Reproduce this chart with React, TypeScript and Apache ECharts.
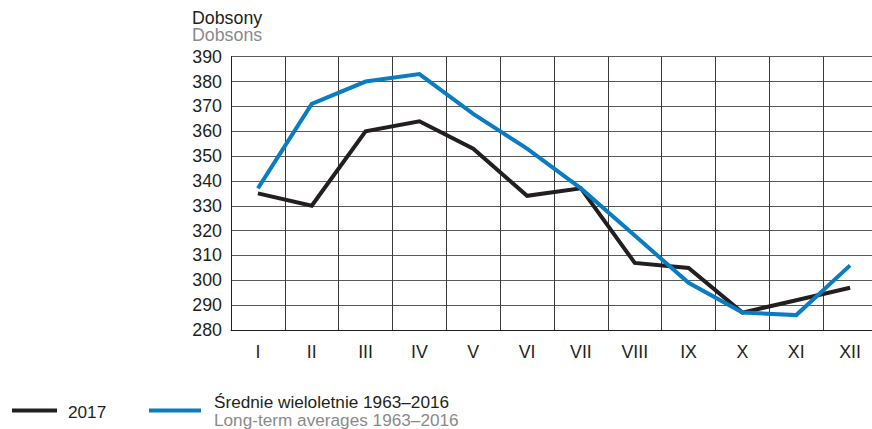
import React, { useEffect, useRef } from "react";
import * as echarts from "echarts";

const months = ["I", "II", "III", "IV", "V", "VI", "VII", "VIII", "IX", "X", "XI", "XII"];
const values2017 = [335, 330, 360, 364, 353, 334, 337, 307, 305, 287, 292, 297];
const longTerm = [337, 371, 380, 383, 367, 353, 337, 318, 299, 287, 286, 306];
const yTicks = { min: 280, max: 390, step: 10 };

const FONT = "'Liberation Sans', Arial, sans-serif";
const BLACK = "#231f20";
const BLUE = "#0a7dc2";
const GREY = "#8a8a8a";

export default function App() {
  const ref = useRef<HTMLDivElement>(null);
  useEffect(() => {
    if (!ref.current) return;
    const chart = echarts.init(ref.current, undefined, { renderer: "svg" });
    chart.setOption({
      animation: false,
      backgroundColor: "#ffffff",
      textStyle: { fontFamily: FONT },
      grid: { left: 231, top: 56.7, width: 646, height: 273.3, containLabel: false },
      xAxis: {
        type: "category",
        data: months,
        boundaryGap: true,
        axisLine: { show: true, lineStyle: { color: BLACK, width: 1 } },
        axisTick: { show: false },
        axisLabel: { color: BLACK, fontSize: 17.8, fontFamily: FONT, margin: 13, interval: 0 },
        splitLine: { show: true, interval: 0, lineStyle: { color: "#3a3a3a", width: 1 } },
      },
      yAxis: {
        type: "value",
        min: yTicks.min,
        max: yTicks.max,
        interval: yTicks.step,
        axisLine: { show: true, lineStyle: { color: BLACK, width: 1 } },
        axisTick: { show: false },
        axisLabel: { color: BLACK, fontSize: 17.8, fontFamily: FONT, margin: 9 },
        splitLine: { show: true, lineStyle: { color: "#5a5a5a", width: 1 } },
      },
      series: [
        {
          name: "2017",
          type: "line",
          data: values2017,
          symbol: "none",
          lineStyle: { color: BLACK, width: 4, join: "miter" },
          z: 3,
        },
        {
          name: "Średnie wieloletnie 1963–2016",
          type: "line",
          data: longTerm,
          symbol: "none",
          lineStyle: { color: BLUE, width: 4, join: "miter" },
          z: 4,
        },
      ],
      graphic: [
        {
          type: "text",
          left: 192,
          top: 9,
          style: {
            text: "{a|Dobsony}\n{b|Dobsons}",
            rich: {
              a: { fill: BLACK, fontSize: 17.8, fontFamily: FONT, lineHeight: 17 },
              b: { fill: GREY, fontSize: 17.8, fontFamily: FONT, lineHeight: 17 },
            },
          },
        },
        { type: "line", shape: { x1: 12, y1: 410.5, x2: 57, y2: 410.5 }, style: { stroke: BLACK, lineWidth: 4 } },
        { type: "text", x: 68, y: 411.5, style: { text: "2017", fill: BLACK, font: `17.2px ${FONT}`, verticalAlign: "middle" } },
        { type: "line", shape: { x1: 149, y1: 410.5, x2: 201, y2: 410.5 }, style: { stroke: BLUE, lineWidth: 4 } },
        { type: "text", x: 214, y: 401.5, style: { text: "Średnie wieloletnie 1963–2016", fill: BLACK, font: `17.2px ${FONT}`, verticalAlign: "middle" } },
        { type: "text", x: 214, y: 420, style: { text: "Long-term averages 1963–2016", fill: GREY, font: `17.2px ${FONT}`, verticalAlign: "middle" } },
      ],
    });
    return () => chart.dispose();
  }, []);
  return (
    <div
      ref={ref}
      style={{ position: "fixed", left: 0, top: 0, width: 880, height: 429, background: "#fff" }}
    />
  );
}
